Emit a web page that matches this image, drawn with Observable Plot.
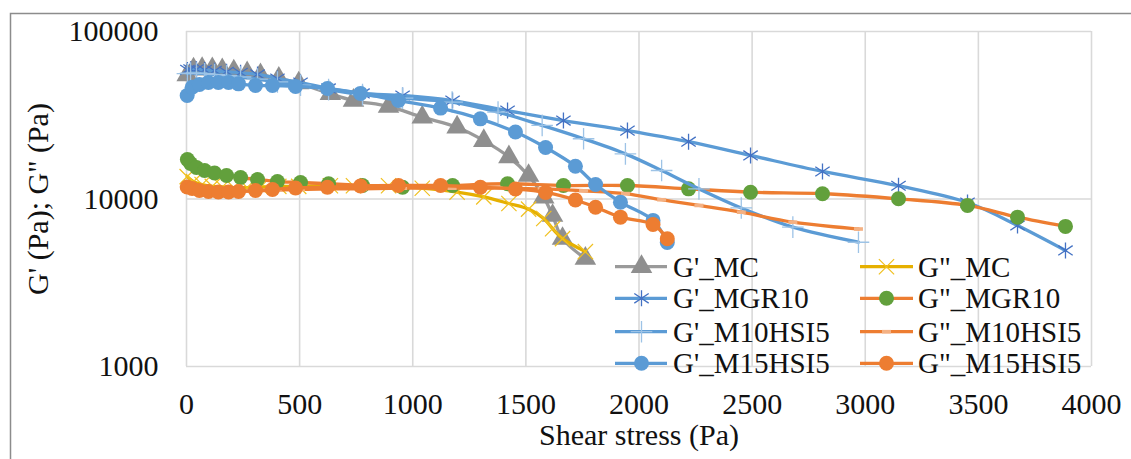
<!DOCTYPE html>
<html><head><meta charset="utf-8">
<script src="https://cdn.jsdelivr.net/npm/d3@7"></script>
<script src="https://cdn.jsdelivr.net/npm/@observablehq/plot@0.6"></script>
<style>
html,body{margin:0;padding:0;background:#fff;}
#wrap{position:relative;width:1131px;height:459px;overflow:hidden;}
#wrap svg.plot{position:absolute;left:0;top:0;}
#legend{position:absolute;left:0;top:0;pointer-events:none;}
</style></head><body><div id="wrap"></div>
<script>
// ---- data ----
const xTicks = [0, 500, 1000, 1500, 2000, 2500, 3000, 3500, 4000];
const yTicks = [1000, 10000, 100000];
const xLabel = "Shear stress (Pa)";
const yLabel = "G' (Pa); G\" (Pa)";

const stressMC = [3, 31, 69, 114, 158, 209, 268, 327, 408, 496, 636, 738, 893, 1042, 1196, 1314, 1425, 1512, 1579, 1618, 1662, 1763];
const gpMC  = [55000, 59500, 60000, 59800, 59000, 58000, 56500, 55000, 52500, 49200, 42500, 38700, 35700, 30800, 26800, 22300, 17800, 13800, 10250, 7960, 5800, 4410];
const gppMC = [13600, 12700, 12200, 11900, 11800, 11700, 11700, 11800, 11900, 11900, 12000, 12000, 12000, 11600, 11000, 10300, 9400, 8700, 7650, 6650, 5800, 4850];

const stressMGR10 = [4, 18, 44, 80, 124, 177, 239, 314, 402, 504, 628, 778, 955, 1176, 1419, 1666, 1949, 2219, 2493, 2811, 3147, 3452, 3673, 3885];
const gpMGR10  = [59000, 59500, 59500, 59000, 58300, 57500, 56700, 55400, 52400, 49600, 45700, 42700, 41500, 38700, 33700, 29400, 25600, 22000, 18200, 14600, 12000, 9530, 6950, 4930];
const gppMGR10 = [17210, 16290, 15420, 14800, 14290, 13810, 13440, 13070, 12710, 12550, 12330, 12040, 11760, 12040, 12330, 12040, 12040, 11500, 10980, 10750, 10030, 9150, 7790, 6860];

const stressM10HSI5 = [4, 18, 44, 80, 124, 177, 239, 314, 402, 504, 628, 778, 955, 1174, 1377, 1572, 1755, 1940, 2100, 2265, 2452, 2680, 2970];
const gpM10HSI5  = [56000, 56500, 56500, 56000, 55300, 54500, 53500, 52000, 50000, 47800, 45000, 42000, 40000, 37900, 33000, 27500, 22900, 18600, 14800, 11500, 8840, 6790, 5520];
const gppM10HSI5 = [11200, 11000, 10900, 10900, 10900, 11000, 11100, 11200, 11300, 11400, 11500, 11500, 11600, 11600, 11600, 11500, 11200, 10770, 9900, 9150, 8340, 7270, 6620];

const stressM15HSI5 = [3, 25, 57, 97, 141, 186, 230, 305, 380, 482, 623, 769, 937, 1123, 1299, 1454, 1587, 1719, 1808, 1918, 2062, 2125];
const gpM15HSI5  = [41500, 46500, 48300, 49600, 49600, 49600, 48700, 47600, 47600, 47000, 45700, 42700, 38700, 34900, 30100, 25100, 20300, 15700, 12200, 9570, 7450, 5500];
const gppM15HSI5 = [11790, 11550, 11240, 11090, 11010, 11010, 11090, 11240, 11390, 11630, 11760, 11960, 12040, 12040, 11760, 11470, 10940, 9860, 8930, 7790, 7040, 5790];

// ---- custom marker shapes ----
const starSymbol = {draw(ctx, size) {
  const r = Math.sqrt(size / Math.PI);
  ctx.moveTo(0, -r); ctx.lineTo(0, r);
  ctx.moveTo(-r * 0.9, -r * 0.6); ctx.lineTo(r * 0.9, r * 0.6);
  ctx.moveTo(-r * 0.9, r * 0.6); ctx.lineTo(r * 0.9, -r * 0.6);
}};
const dashSymbol = {draw(ctx, size) {
  const r = Math.sqrt(size / Math.PI);
  ctx.rect(-r, -r * 0.4, 2 * r, r * 0.8);
}};

const series = [
  {name: "G'_MC", x: stressMC, y: gpMC, line: "#9a9a9a", symbol: "triangle", r: 8, fill: "#8f8f8f", stroke: "none", sw: 0},
  {name: "G\"_MC", x: stressMC, y: gppMC, line: "#e6b000", symbol: "times", r: 7, fill: "none", stroke: "#f0c020", sw: 1.2},
  {name: "G'_MGR10", x: stressMGR10, y: gpMGR10, line: "#5b9bd5", symbol: starSymbol, r: 8, fill: "none", stroke: "#4472c4", sw: 1.3},
  {name: "G\"_MGR10", x: stressMGR10, y: gppMGR10, line: "#ed7d31", symbol: "circle", r: 7.5, fill: "#62a03c", stroke: "none", sw: 0},
  {name: "G'_M10HSI5", x: stressM10HSI5, y: gpM10HSI5, line: "#5b9bd5", symbol: "plus", r: 7, fill: "none", stroke: "#9dc3e6", sw: 1.3},
  {name: "G\"_M10HSI5", x: stressM10HSI5, y: gppM10HSI5, line: "#ed7d31", symbol: dashSymbol, r: 4.5, fill: "#f4b183", stroke: "none", sw: 0},
  {name: "G'_M15HSI5", x: stressM15HSI5, y: gpM15HSI5, line: "#5b9bd5", symbol: "circle", r: 7.5, fill: "#5b9bd5", stroke: "none", sw: 0},
  {name: "G\"_M15HSI5", x: stressM15HSI5, y: gppM15HSI5, line: "#ed7d31", symbol: "circle", r: 7.5, fill: "#ed7d31", stroke: "none", sw: 0}
];

const font = "Liberation Serif, Times New Roman, Tinos, Noto Serif, FreeSerif, Nimbus Roman, DejaVu Serif, serif";
const marks = [
  Plot.gridX(xTicks, {stroke: "#d9d9d9", strokeOpacity: 1, strokeWidth: 1.6}),
  Plot.gridY(yTicks, {stroke: "#d9d9d9", strokeOpacity: 1, strokeWidth: 1.6}),
  Plot.axisX(xTicks, {tickSize: 0, tickPadding: 26, fontSize: 30, fontFamily: font, label: null, tickFormat: d => String(d)}),
  Plot.axisY(yTicks, {tickSize: 0, tickPadding: 28, fontSize: 30, fontFamily: font, label: null, tickFormat: d => String(d)}),
  Plot.text([yLabel], {frameAnchor: "left", textAnchor: "middle", dx: -148, rotate: -90, fontSize: 30, fontFamily: font, fill: "#111"}),
  Plot.text([xLabel], {frameAnchor: "bottom", dy: 78, fontSize: 30, fontFamily: font, fill: "#111"})
];
for (const s of series) {
  const rows = s.x.map((x, i) => ({x, y: s.y[i]}));
  marks.push(Plot.line(rows, {x: "x", y: "y", stroke: s.line, strokeWidth: 3.3, curve: "catmull-rom"}));
  marks.push(Plot.dot(rows, {x: "x", y: "y", symbol: s.symbol, r: s.r, fill: s.fill, stroke: s.stroke, strokeWidth: s.sw}));
}

const chart = Plot.plot({
  width: 1131, height: 459,
  marginLeft: 186, marginRight: 40, marginTop: 31, marginBottom: 93,
  style: {fontFamily: font, fontSize: "30px", color: "#111", background: "transparent"},
  x: {domain: [0, 4000]},
  y: {type: "log", domain: [1000, 100000]},
  marks
});
const wrap = document.getElementById("wrap");
wrap.appendChild(chart);

// ---- chart-area border + legend overlay ----
const legend = d3.select(wrap).append("svg").attr("id", "legend").attr("width", 1131).attr("height", 459);
legend.append("path").attr("d", "M10.5,459V13.5H1131").attr("fill", "none").attr("stroke", "#8c8c8c").attr("stroke-width", 1.5);
const rowsY = [266.7, 298.3, 331.7, 363.3];
const cols = [{x0: 615, x1: 667, mx: 641.5, tx: 673}, {x0: 860, x1: 913, mx: 886.5, tx: 918}];
const symMap = {triangle: d3.symbolTriangle, times: d3.symbolTimes, plus: d3.symbolPlus, circle: d3.symbolCircle};
const legendOrder = [0, 2, 4, 6, 1, 3, 5, 7];
legendOrder.forEach((si, k) => {
  const s = series[si];
  const c = cols[Math.floor(k / 4)], y = rowsY[k % 4];
  const g = legend.append("g");
  g.append("line").attr("x1", c.x0).attr("x2", c.x1).attr("y1", y).attr("y2", y).attr("stroke", s.line).attr("stroke-width", 3.3);
  const type = typeof s.symbol === "string" ? symMap[s.symbol] : s.symbol;
  g.append("path").attr("transform", `translate(${c.mx},${y})`)
    .attr("d", d3.symbol(type, Math.PI * s.r * s.r)())
    .attr("fill", s.fill).attr("stroke", s.stroke).attr("stroke-width", s.sw);
  g.append("text").attr("x", c.tx).attr("y", y + 10).attr("font-size", 29).attr("font-family", font).attr("fill", "#111").text(s.name);
});
</script>
</body></html>
